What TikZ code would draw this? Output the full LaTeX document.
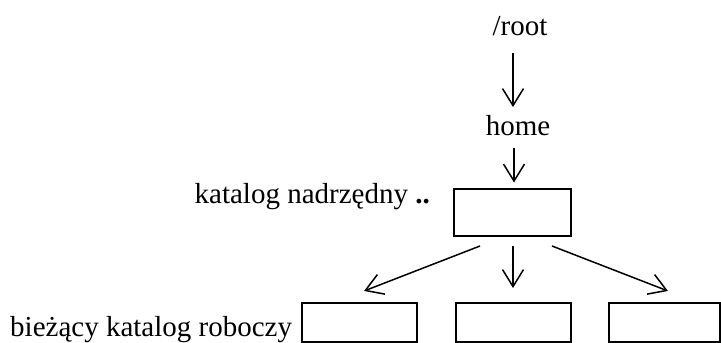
\documentclass[tikz,border=0pt]{standalone}
\usepackage{fontspec}
\setmainfont{Liberation Serif}
\usetikzlibrary{arrows.meta,calc}
\begin{document}
\begin{tikzpicture}[x=1pt,y=-1pt,
  dirbox/.style={draw,line width=2pt,inner sep=0pt,minimum width=115pt,minimum height=39pt},
  lbl/.style={inner sep=0pt,font=\fontsize{29}{32}\selectfont},
  arr/.style={line width=1.5pt,-{Straight Barb[length=17pt,width=21pt,line width=1.5pt]}}]
  \useasboundingbox (0,0) rectangle (721,343);
  % labels
  \node[lbl,anchor=base] (root) at (520,35) {/root};
  \node[lbl,anchor=base] (home) at (518,135) {home};
  \node[lbl,anchor=base east] (parlbl) at (430,203) {katalog nadrzędny \textbf{..}};
  \node[lbl,anchor=base west] (cwdlbl) at (10,336.5) {bieżący katalog roboczy};
  % directory boxes
  \node[dirbox,minimum width=117pt,minimum height=47pt] (p) at (512.5,212) {};
  \node[dirbox] (c1) at (359.5,322.5) {};
  \node[dirbox] (c2) at (513.5,322.5) {};
  \node[dirbox,minimum width=111pt] (c3) at (664.5,322.5) {};
  % connectors
  \draw[arr] ([shift={(-7,18)}]root.base) -- ([shift={(-5,-28)}]home.base);
  \draw[arr] ([shift={(-4,13)}]home.base) -- ([shift={(1.5,-5)}]p.north);
  \draw[arr] ([shift={(-32.5,9.5)}]p.south) -- ([shift={(4.5,-11)}]c1.north);
  \draw[arr] ([shift={(0.5,9.5)}]p.south) -- ([shift={(-0.5,-14)}]c2.north);
  \draw[arr] ([shift={(39.5,9.5)}]p.south) -- ([shift={(3.5,-11)}]c3.north);
\end{tikzpicture}
\end{document}
